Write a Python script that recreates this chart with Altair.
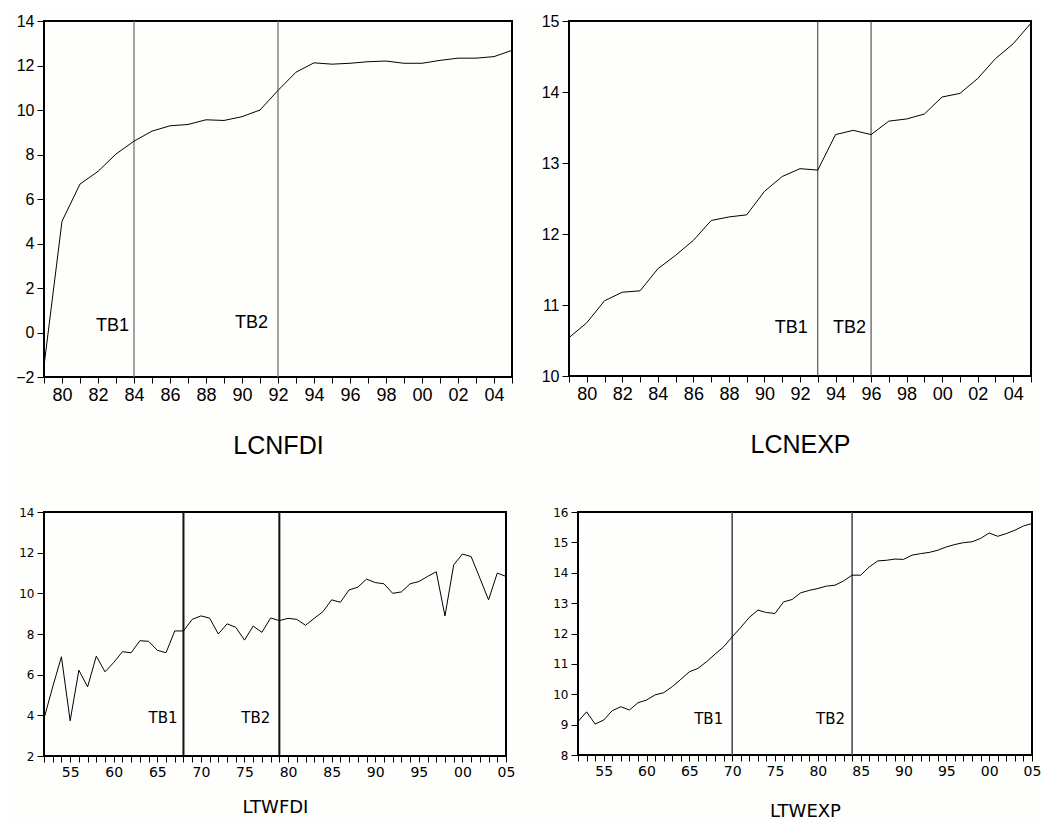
import altair as alt
import pandas as pd

# ---------------- data ----------------
cn_years = list(range(1979, 2006))
lcnfdi = [-1.5, 5.0, 6.67, 7.24, 8.02, 8.6, 9.05, 9.29, 9.35, 9.56, 9.53, 9.7, 10.0,
          10.88, 11.7, 12.12, 12.06, 12.1, 12.17, 12.2, 12.1, 12.1, 12.23, 12.33,
          12.33, 12.4, 12.68]
lcnexp = [10.54, 10.75, 11.06, 11.18, 11.2, 11.51, 11.7, 11.91, 12.19, 12.24, 12.27,
          12.6, 12.81, 12.92, 12.9, 13.4, 13.46, 13.4, 13.59, 13.62, 13.69, 13.93,
          13.98, 14.19, 14.47, 14.68, 14.97]

tw_years = list(range(1952, 2006))
ltwfdi = [3.84, 5.4, 6.88, 3.73, 6.22, 5.4, 6.91, 6.14, 6.6, 7.13, 7.08, 7.67, 7.64,
          7.2, 7.08, 8.15, 8.15, 8.72, 8.89, 8.78, 8.0, 8.5, 8.33, 7.7, 8.39, 8.08,
          8.79, 8.66, 8.77, 8.72, 8.43, 8.77, 9.1, 9.68, 9.56, 10.17, 10.3, 10.7,
          10.53, 10.47, 10.0, 10.07, 10.47, 10.58, 10.83, 11.06, 8.89, 11.4, 11.93,
          11.81, 10.75, 9.68, 11.0, 10.83]
ltwexp = [9.1, 9.42, 9.02, 9.15, 9.46, 9.59, 9.48, 9.72, 9.81, 9.98, 10.05, 10.25,
          10.49, 10.74, 10.85, 11.07, 11.32, 11.56, 11.89, 12.2, 12.53, 12.77, 12.69,
          12.66, 13.04, 13.12, 13.34, 13.42, 13.48, 13.56, 13.59, 13.73, 13.92, 13.92,
          14.19, 14.39, 14.41, 14.45, 14.44, 14.58, 14.63, 14.67, 14.74, 14.85, 14.93,
          14.99, 15.02, 15.13, 15.31, 15.2, 15.29, 15.4, 15.54, 15.62]

titles = ["LCNFDI", "LCNEXP", "LTWFDI", "LTWEXP"]
breaks = [[1984, 1992], [1993, 1996], [1968, 1979], [1970, 1984]]
break_names = ["TB1", "TB2"]
label_level = [[0.29, 0.43], [10.68, 10.68], [3.85, 3.85], [9.2, 9.2]]

cn_label_years = [1980, 1982, 1984, 1986, 1988, 1990, 1992, 1994, 1996, 1998, 2000, 2002, 2004]
tw_label_years = [1955, 1960, 1965, 1970, 1975, 1980, 1985, 1990, 1995, 2000, 2005]

y_domains = [[-2, 14], [10, 15], [2, 14], [8, 16]]
y_ticks = [list(range(-2, 15, 2)), list(range(10, 16)), list(range(2, 15, 2)), list(range(8, 17))]


def panel(years, values, label_years, idx, w, h, big, rule_color, rule_w, title_pad, tb_dx):
    df = pd.DataFrame({"year": years, "value": values})
    lab_list = ",".join(str(v) for v in label_years)
    label_expr = f"indexof([{lab_list}], datum.value) >= 0 ? substring('' + datum.value, 2) : ''"
    if big:
        fnt, xlab, ylab, tbfs, tfs = "Liberation Sans", 18, 16, 18, 25
    else:
        fnt, xlab, ylab, tbfs, tfs = "DejaVu Sans", 14, 12, 15, 18
    x = alt.X(
        "year:Q",
        scale=alt.Scale(domain=[years[0], years[-1]], nice=False, zero=False),
        axis=alt.Axis(
            values=years, tickCount=200, labelExpr=label_expr, grid=False, domain=False,
            tickColor="#000", tickSize=6, labelFontSize=xlab, labelFont=fnt,
            labelColor="#000", labelPadding=3, labelFlush=False, labelOverlap=False,
            title=titles[idx], titleFont=fnt, titleFontSize=tfs, titleFontWeight="normal",
            titleColor="#000", titlePadding=title_pad,
        ),
    )
    y = alt.Y(
        "value:Q",
        scale=alt.Scale(domain=y_domains[idx], nice=False, zero=False),
        axis=alt.Axis(
            values=y_ticks[idx], tickCount=50, grid=False, domain=False, tickColor="#000",
            tickSize=7, labelFontSize=ylab, labelFont=fnt, labelColor="#000", labelPadding=3,
            labelFlush=False, labelOverlap=False, title=None, format="d",
        ),
    )
    line = alt.Chart(df).mark_line(color="#000", strokeWidth=1, clip=True).encode(x=x, y=y)
    bdf = pd.DataFrame({"year": breaks[idx], "name": break_names, "value": label_level[idx]})
    rules = alt.Chart(bdf).mark_rule(color=rule_color, strokeWidth=rule_w).encode(x="year:Q")
    layers = [rules, line]
    for i in range(2):
        t = alt.Chart(bdf.iloc[[i]]).mark_text(
            align="right", baseline="middle", dx=tb_dx[i], fontSize=tbfs, font=fnt, color="#000"
        ).encode(x="year:Q", y="value:Q", text="name:N")
        layers.append(t)
    return alt.layer(*layers).properties(width=w, height=h)


p1 = panel(cn_years, lcnfdi, cn_label_years, 0, 468, 356, True, "#666", 1.2, 29, [-5, -10])
p2 = panel(cn_years, lcnexp, cn_label_years, 1, 462, 355, True, "#333", 1, 29, [-10, -5])
p3 = panel(tw_years, ltwfdi, tw_label_years, 2, 462, 244, False, "#111", 2, 19, [-6, -9])
p4 = panel(tw_years, ltwexp, tw_label_years, 3, 454, 243, False, "#444", 1.5, 24, [-9, -7])

top = alt.hconcat(p1, p2, spacing=26).resolve_scale(x="independent", y="independent")
bottom = alt.hconcat(p3, p4, spacing=35).resolve_scale(x="independent", y="independent")

chart = alt.vconcat(top, bottom, spacing=46).resolve_scale(
    x="independent", y="independent"
).properties(
    padding={"left": 6, "top": 4, "right": 0, "bottom": 0},
    background="#fefefc",
).configure_view(stroke="#000", strokeWidth=2)

chart.save("out.html", embed_options={"renderer": "svg", "actions": False})
